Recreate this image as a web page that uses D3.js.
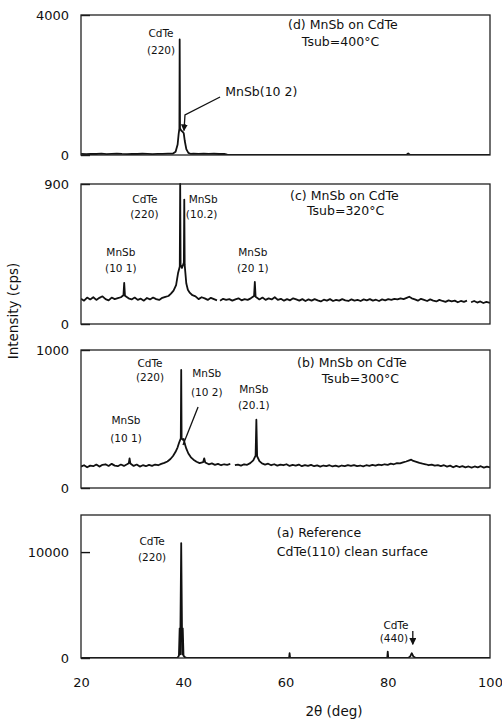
<!DOCTYPE html>
<html>
<head>
<meta charset="utf-8">
<script src="https://cdn.jsdelivr.net/npm/d3@7"></script>
<style>
  body { margin: 0; background: #fff; }
  text { font-family: "DejaVu Sans", sans-serif; fill: #111; }
</style>
</head>
<body>
<div id="output"></div>
<script>
// scans: [2theta (deg), intensity (cps)], null = gap in the trace
var scanD = [
  [20,30],[21,22],[22,35],[23,28],[24,40],[25,25],[26,32],[27,38],[28,30],[29,26],[30,35],[31,28],
  [32,36],[33,30],[34,25],[35,34],[36,30],[37,38],[38.0,40],[38.5,90],[38.9,300],[39.1,600],[39.25,760],
  [39.3,3300],[39.37,760],[39.6,700],[39.9,660],[40.1,620],[40.3,400],[40.6,170],[41.0,60],[41.4,35],
  [42,40],[43,32],[44,38],[45,30],[46,36],[47,28],[48,33],[48.6,8],[52,5],[56,6],[60,4],[64,6],
  [68,5],[72,4],[76,6],[80,5],[83.7,7],[84.0,45],[84.3,8],[88,5],[92,6],[96,4],[100,5]
];

var scanC = [
  [20,162],[20.6,150],[21.2,170],[21.8,158],[22.4,172],[23,155],[23.6,168],[24.2,178],[24.8,160],[25.4,152],
  [26,170],[26.6,160],[27.2,166],[27.8,172],[28.3,185],[28.45,265],[28.6,182],[29.3,165],[29.9,158],[30.5,170],
  [31.1,155],[31.7,163],[32.3,150],[32.9,167],[33.5,158],[34.1,170],[34.7,160],[35.3,155],[35.9,168],[36.5,175],
  [37.1,180],[37.6,195],[38.1,215],[38.6,250],[39.0,330],[39.32,370],[39.4,900],[39.48,380],[39.75,360],[40.12,395],
  [40.2,800],[40.28,380],[40.6,260],[40.9,220],[41.3,200],[41.8,185],[42.4,178],[43,160],[43.6,172],[44.2,165],
  [44.8,155],[45.4,168],[46,160],[46.6,152],[46.8,null],[47.2,150],[47.8,162],[48.4,155],[49,160],[49.6,150],
  [50.2,158],[50.8,165],[51.4,152],[52,160],[52.6,155],[53.2,165],[53.85,180],[54.0,270],[54.15,175],[54.9,158],
  [55.5,170],[56.1,155],[56.7,165],[57.3,158],[57.9,172],[58.5,155],[59.1,162],[59.7,150],[60.3,160],[60.9,152],
  [61.5,165],[62.1,158],[62.7,150],[63.3,160],[63.9,148],[64.5,158],[65.1,150],[65.7,160],[66.3,152],[66.9,145],
  [67.5,156],[68.1,150],[68.7,160],[69.3,148],[69.9,155],[70.5,150],[71.1,160],[71.7,152],[72.3,148],[72.9,158],
  [73.5,150],[74.1,155],[74.7,148],[75.3,158],[75.9,152],[76.5,160],[77.1,150],[77.7,156],[78.3,148],[78.9,158],
  [79.5,152],[80.1,160],[80.7,155],[81.3,162],[81.9,158],[82.5,165],[83.1,160],[83.7,168],[84.2,175],[84.7,165],
  [85.3,158],[85.9,150],[86.5,162],[87.1,155],[87.7,148],[88.3,158],[88.9,150],[89.5,145],[90.1,155],[90.7,148],
  [91.3,142],[91.9,152],[92.5,145],[93.1,150],[93.7,140],[94.3,148],[94.9,142],[95.5,150],[95.9,null],[96.3,140],
  [96.9,148],[97.5,138],[98.1,145],[98.7,135],[99.3,142],[100,136]
];

var scanB = [
  [20,155],[20.6,165],[21.2,150],[21.8,162],[22.4,158],[23,170],[23.6,155],[24.2,168],[24.8,172],[25.4,160],
  [26,175],[26.6,162],[27.2,158],[27.8,170],[28.4,160],[29.0,172],[29.35,180],[29.5,215],[29.65,178],[30.3,160],
  [30.9,170],[31.5,155],[32.1,165],[32.7,158],[33.3,168],[33.9,160],[34.5,170],[35.1,165],[35.7,175],[36.3,182],
  [36.9,192],[37.5,210],[38.0,232],[38.5,262],[38.9,295],[39.2,330],[39.52,360],[39.6,855],[39.68,360],[39.9,350],
  [40.1,355],[40.3,320],[40.6,285],[41.0,250],[41.5,222],[42.0,205],[42.6,190],[43.2,180],[43.9,188],[44.1,215],
  [44.3,185],[45.0,172],[45.6,178],[46.2,168],[46.8,175],[47.4,165],[48.0,172],[48.6,168],[49.2,174],[49.6,null],
  [50.1,165],[50.7,170],[51.3,162],[51.9,172],[52.5,168],[53.1,180],[53.7,200],[54.15,235],[54.3,495],[54.45,230],
  [54.9,195],[55.4,178],[56.0,170],[56.6,176],[57.2,165],[57.8,172],[58.4,162],[59.0,170],[59.6,165],[60.2,172],
  [60.8,160],[61.4,168],[62.0,162],[62.6,170],[63.2,158],[63.8,166],[64.4,160],[65.0,168],[65.6,158],[66.2,164],
  [66.8,155],[67.4,163],[68.0,158],[68.6,165],[69.2,156],[69.8,162],[70.4,155],[71.0,163],[71.6,158],[72.2,165],
  [72.8,160],[73.4,166],[74.0,158],[74.6,163],[75.2,157],[75.8,165],[76.4,160],[77.0,168],[77.6,162],[78.2,170],
  [78.8,165],[79.4,172],[80.0,168],[80.6,176],[81.2,172],[81.8,180],[82.4,178],[83.0,186],[83.6,192],[84.2,200],
  [84.6,205],[85.0,196],[85.6,190],[86.2,182],[86.8,176],[87.4,172],[88.0,165],[88.6,170],[89.2,162],[89.8,166],
  [90.4,158],[91.0,165],[91.6,155],[92.2,162],[92.8,150],[93.4,160],[94.0,152],[94.6,158],[95.2,150],[95.8,156],
  [96.4,148],[97.0,156],[97.6,150],[98.2,158],[98.8,148],[99.4,155],[100,150]
];

var scanA = [
  [20,0],[30,0],[38.8,0],[39.0,120],[39.15,220],[39.3,2800],[39.4,350],[39.6,10850],[39.8,350],[39.9,2800],
  [40.05,220],[40.3,80],[40.7,0],[60.7,0],[60.8,450],[60.9,0],[79.9,0],[80.0,600],[80.1,0],[84.0,0],
  [84.4,150],[84.7,450],[85.0,150],[85.5,0],[100,0]
];

var yMaxes = [4000, 900, 1000, 13500];
var yTicks = [[0, 4000], [0, 900], [0, 1000], [0, 10000]];
var xTicks = [20, 40, 60, 80, 100];

// labels: [text, 2theta, cps, anchor]
var labelsD = [
  ['CdTe', 35.65, 3486, 'middle'], ['(220)', 35.65, 3000, 'middle'],
  ['MnSb(10 2)', 48.2, 1800, 'start'],
  ['(d) MnSb on CdTe', 60.5, 3714, 'start'], ['Tsub=400°C', 63.2, 3229, 'start']
];
var labelsC = [
  ['CdTe', 32.5, 804, 'middle'], ['(220)', 32.4, 707, 'middle'],
  ['MnSb', 43.9, 804, 'middle'], ['(10.2)', 43.6, 707, 'middle'],
  ['MnSb', 27.8, 463, 'middle'], ['(10 1)', 27.8, 360, 'middle'],
  ['MnSb', 53.6, 463, 'middle'], ['(20 1)', 53.6, 360, 'middle'],
  ['(c) MnSb on CdTe', 60.9, 823, 'start'], ['Tsub=320°C', 64.2, 726, 'start']
];
var labelsB = [
  ['CdTe', 33.5, 906, 'middle'], ['(220)', 33.5, 804, 'middle'],
  ['MnSb', 44.6, 833, 'middle'], ['(10 2)', 44.6, 696, 'middle'],
  ['MnSb', 53.8, 717, 'middle'], ['(20.1)', 53.8, 601, 'middle'],
  ['MnSb', 28.8, 493, 'middle'], ['(10 1)', 28.8, 362, 'middle'],
  ['(b) MnSb on CdTe', 62.25, 906, 'start'], ['Tsub=300°C', 67.1, 790, 'start']
];
var labelsA = [
  ['CdTe', 33.9, 11045, 'middle'], ['(220)', 33.9, 9535, 'middle'],
  ['(a) Reference', 58.3, 11800, 'start'], ['CdTe(110) clean surface', 58.3, 10007, 'start'],
  ['CdTe', 81.6, 3115, 'middle'], ['(440)', 81.2, 1888, 'middle']
];

// leader lines in data units
var leadersD = [[[47.2, 1657], [40.34, 1143], [40.15, 700]]];
var leadersB = [[[42.9, 587], [39.95, 312]]];
var leadersA = [[[84.9, 2549], [84.9, 1300]]];

var width = 502;
var height = 725;
var left = 81;
var right = 490;

var panels = [
  { scan: scanD, max: yMaxes[0], ticks: yTicks[0], labels: labelsD, leaders: leadersD, top: 15, bottom: 155, arrow: true },
  { scan: scanC, max: yMaxes[1], ticks: yTicks[1], labels: labelsC, leaders: [], top: 184, bottom: 324 },
  { scan: scanB, max: yMaxes[2], ticks: yTicks[2], labels: labelsB, leaders: leadersB, top: 350, bottom: 488, arrow: false },
  { scan: scanA, max: yMaxes[3], ticks: yTicks[3], labels: labelsA, leaders: leadersA, top: 515, bottom: 658, arrow: true }
];

var svg = d3.select('#output')
  .append('svg')
  .attr('width', width)
  .attr('height', height);

svg.append('defs').append('marker')
  .attr('id', 'head')
  .attr('viewBox', '0 0 8 8')
  .attr('refX', 7).attr('refY', 4)
  .attr('markerWidth', 7).attr('markerHeight', 7)
  .attr('markerUnits', 'userSpaceOnUse')
  .attr('orient', 'auto')
  .append('path')
  .attr('d', 'M0,0 L8,4 L0,8 z')
  .attr('fill', '#111');

var xScale = d3.scaleLinear().domain([20, 100]).range([left, right]);

panels.forEach(function(p, i){
  var yScale = d3.scaleLinear().domain([0, p.max]).range([p.bottom, p.top]);
  var g = svg.append('g');

  g.append('clipPath').attr('id', 'clip' + i)
    .append('rect')
    .attr('x', left).attr('y', p.top - 1)
    .attr('width', right - left).attr('height', p.bottom - p.top + 1);

  // y axis, ticks pointing inside
  g.append('g')
    .attr('transform', `translate(${left},0)`)
    .call(d3.axisLeft(yScale).tickValues(p.ticks).tickSizeInner(-9).tickSizeOuter(0).tickPadding(12).tickFormat(d3.format('d')))
    .call(function(a){
      a.select('.domain').remove();
      a.selectAll('line').attr('stroke', '#111').attr('stroke-width', 1.4);
      a.selectAll('text').attr('font-size', 13).attr('fill', '#111')
        .attr('font-family', '"DejaVu Sans", sans-serif');
    });

  var line = d3.line()
    .defined(function(d){ return d[1] !== null; })
    .x(function(d){ return xScale(d[0]); })
    .y(function(d){ return yScale(d[1]); });

  g.append('path')
    .datum(p.scan)
    .attr('clip-path', `url(#clip${i})`)
    .attr('d', line)
    .attr('fill', 'none')
    .attr('stroke', '#111')
    .attr('stroke-width', 1.8)
    .attr('stroke-linejoin', 'round');

  // frame
  g.append('rect')
    .attr('x', left).attr('y', p.top)
    .attr('width', right - left).attr('height', p.bottom - p.top)
    .attr('fill', 'none')
    .attr('stroke', '#222')
    .attr('stroke-width', 1.3);

  g.selectAll('.lbl')
    .data(p.labels)
    .enter()
    .append('text')
    .attr('x', function(d){ return xScale(d[1]); })
    .attr('y', function(d){ return yScale(d[2]); })
    .attr('dy', '0.35em')
    .attr('text-anchor', function(d){ return d[3]; })
    .attr('font-size', function(d){ return d[3] === 'start' ? 12.5 : 10.5; })
    .text(function(d){ return d[0]; });

  g.selectAll('.lead')
    .data(p.leaders)
    .enter()
    .append('path')
    .attr('d', d3.line().x(function(d){ return xScale(d[0]); }).y(function(d){ return yScale(d[1]); }))
    .attr('fill', 'none')
    .attr('stroke', '#111')
    .attr('stroke-width', 1.3)
    .attr('marker-end', p.arrow ? 'url(#head)' : null);
});

// x axis labels under the bottom panel
svg.append('g')
  .attr('transform', `translate(0,${panels[3].bottom})`)
  .call(d3.axisBottom(xScale).tickValues(xTicks).tickSize(0).tickPadding(20))
  .call(function(a){
    a.select('.domain').remove();
    a.selectAll('text').attr('font-size', 13).attr('fill', '#111')
      .attr('font-family', '"DejaVu Sans", sans-serif');
  });

svg.append('text')
  .attr('x', 334)
  .attr('y', 716)
  .attr('text-anchor', 'middle')
  .attr('font-size', 13.5)
  .text('2θ (deg)');

svg.append('text')
  .attr('transform', 'translate(18,311) rotate(-90)')
  .attr('text-anchor', 'middle')
  .attr('font-size', 13.5)
  .text('Intensity (cps)');
</script>
</body>
</html>
